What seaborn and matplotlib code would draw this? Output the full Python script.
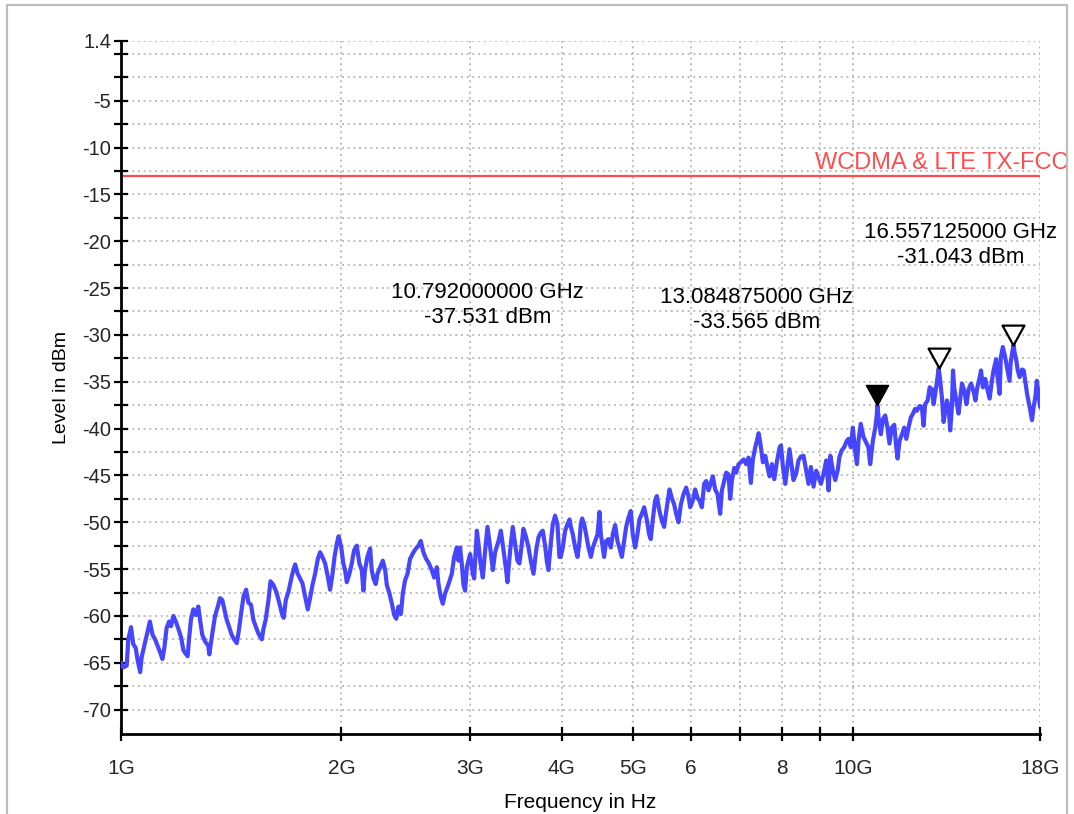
import matplotlib
matplotlib.use("Agg")
import matplotlib.pyplot as plt
from matplotlib import font_manager
from matplotlib.path import Path
from matplotlib.ticker import FixedLocator, NullLocator
from matplotlib.patches import Rectangle
import seaborn as sns
import pandas as pd

# ---------------- data ----------------
freq_ghz = [
    1.000, 1.007, 1.018, 1.023, 1.032, 1.039, 1.047, 1.054, 1.062, 1.067,
    1.084, 1.095, 1.104, 1.113, 1.122, 1.131, 1.139, 1.146, 1.154, 1.163,
    1.170, 1.179, 1.188, 1.198, 1.208, 1.217, 1.233, 1.239, 1.246, 1.255,
    1.265, 1.275, 1.282, 1.291, 1.302, 1.316, 1.320, 1.330, 1.344, 1.358,
    1.365, 1.375, 1.384, 1.394, 1.404, 1.416, 1.427, 1.439, 1.447, 1.459,
    1.470, 1.482, 1.493, 1.505, 1.516, 1.532, 1.543, 1.557, 1.565, 1.576,
    1.590, 1.600, 1.615, 1.629, 1.641, 1.658, 1.668, 1.679, 1.693, 1.714,
    1.729, 1.743, 1.769, 1.784, 1.799, 1.812, 1.826, 1.841, 1.857, 1.870,
    1.884, 1.900, 1.916, 1.930, 1.945, 1.957, 1.971, 1.982, 1.998, 2.012,
    2.023, 2.034, 2.051, 2.066, 2.081, 2.099, 2.116, 2.132, 2.143, 2.154,
    2.170, 2.189, 2.200, 2.212, 2.228, 2.240, 2.259, 2.278, 2.295, 2.307,
    2.326, 2.344, 2.361, 2.376, 2.393, 2.411, 2.426, 2.443, 2.462, 2.482,
    2.509, 2.529, 2.548, 2.567, 2.588, 2.610, 2.630, 2.657, 2.677, 2.700,
    2.714, 2.734, 2.751, 2.771, 2.801, 2.830, 2.851, 2.875, 2.890, 2.905,
    2.920, 2.936, 2.951, 2.967, 2.982, 2.998, 3.023, 3.036, 3.062, 3.078,
    3.094, 3.120, 3.143, 3.166, 3.193, 3.220, 3.243, 3.278, 3.302, 3.330,
    3.357, 3.371, 3.400, 3.428, 3.454, 3.479, 3.501, 3.527, 3.545, 3.575,
    3.602, 3.628, 3.659, 3.690, 3.717, 3.745, 3.767, 3.795, 3.815, 3.835,
    3.863, 3.888, 3.916, 3.945, 3.970,
    3.987, 4.012, 4.042, 4.072, 4.098, 4.115, 4.141, 4.171, 4.202, 4.229,
    4.246, 4.264, 4.291, 4.318, 4.350, 4.382, 4.410, 4.442, 4.475, 4.503,
    4.522, 4.550, 4.569, 4.598, 4.632, 4.666, 4.695, 4.730, 4.765, 4.805,
    4.831, 4.866, 4.897, 4.933, 4.969, 5.000, 5.037, 5.074, 5.106, 5.144,
    5.182, 5.225, 5.264, 5.291, 5.325, 5.364, 5.393, 5.438, 5.478, 5.518,
    5.565, 5.612, 5.653, 5.695, 5.731, 5.773, 5.816, 5.865, 5.914, 5.957,
    5.989, 6.039, 6.084, 6.129, 6.168, 6.213, 6.259, 6.298, 6.345, 6.392,
    6.432, 6.479, 6.527, 6.582, 6.617, 6.666, 6.708, 6.757, 6.793, 6.828,
    6.879, 6.923, 6.974, 7.024, 7.084, 7.143, 7.196, 7.249, 7.295, 7.349,
    7.388, 7.427, 7.466, 7.529, 7.585, 7.641, 7.689, 7.746, 7.803, 7.869,
    7.935,
    7.969, 8.019, 8.078, 8.138, 8.185, 8.246, 8.290, 8.359, 8.421, 8.483,
    8.555, 8.627, 8.690, 8.755, 8.828, 8.903, 8.968, 9.035, 9.112, 9.188,
    9.257, 9.306, 9.383, 9.453, 9.523, 9.579, 9.650, 9.721, 9.802, 9.854,
    9.927, 9.989, 10.06, 10.12, 10.17, 10.24, 10.33, 10.42, 10.49, 10.55,
    10.64, 10.72, 10.77, 10.792, 10.84, 10.91, 10.98, 11.06, 11.14, 11.21,
    11.29, 11.38, 11.45, 11.50, 11.57, 11.66, 11.74, 11.82, 11.90, 11.99,
    12.07, 12.15, 12.22, 12.32, 12.41, 12.48, 12.54, 12.64, 12.72, 12.81,
    12.88, 12.94, 13.01, 13.085, 13.15, 13.22, 13.29, 13.36, 13.43, 13.50,
    13.57, 13.64, 13.69, 13.74, 13.83, 13.93, 14.01, 14.08, 14.19, 14.28,
    14.38, 14.49, 14.61, 14.69, 14.76, 14.89, 14.95, 15.04, 15.15, 15.23,
    15.36, 15.47, 15.55, 15.68, 15.75, 15.85, 15.91, 16.01, 16.13, 16.25,
    16.35, 16.42, 16.557, 16.60, 16.71, 16.78, 16.88, 17.01, 17.10, 17.18,
    17.28, 17.42, 17.55, 17.64, 17.73, 17.82, 17.92, 18.00,
]
level_dbm = [
    -65.0, -65.5, -65.3, -62.5, -61.2, -63.0, -63.4, -64.8, -66.0, -64.4,
    -62.1, -60.6, -62.0, -62.5, -63.2, -63.9, -64.6, -63.4, -61.3, -60.6,
    -61.1, -60.0, -60.6, -61.4, -62.3, -63.7, -64.3, -62.3, -60.4, -59.3,
    -59.9, -59.0, -60.4, -62.0, -62.7, -63.2, -64.1, -62.3, -60.0, -58.8,
    -58.1, -58.3, -59.3, -60.4, -61.1, -62.0, -62.5, -62.9, -61.8, -59.7,
    -57.9, -57.2, -58.6, -58.8, -60.4, -61.4, -62.0, -62.5, -61.4, -60.4,
    -58.3, -56.3, -56.7, -57.4, -58.3, -59.7, -60.2, -58.3, -57.4, -55.5,
    -54.5, -55.5, -56.5, -57.9, -59.3, -58.1, -56.7, -55.5, -53.9, -53.2,
    -53.7, -54.4, -55.8, -57.2, -55.5, -53.7, -52.3, -51.5, -52.6, -54.4,
    -55.1, -56.4, -55.5, -54.4, -53.0, -52.5, -54.4, -55.1, -57.3, -55.1,
    -53.7, -52.8, -55.1, -56.0, -56.6, -55.5, -54.8, -54.1, -55.1, -56.7,
    -57.6, -58.7, -59.9, -60.3, -59.0, -59.8, -57.6, -56.2, -55.5, -53.9,
    -53.2, -52.8, -52.5, -52.0, -53.2, -53.9, -54.3, -55.1, -55.9, -54.8,
    -56.6, -58.0, -58.7, -57.6, -56.6, -55.5, -53.7, -52.7, -54.1, -52.7,
    -54.4, -56.7, -57.3, -54.8, -54.1, -53.4, -55.5, -56.0, -50.9, -52.3,
    -54.1, -55.9, -53.0, -50.5, -52.7, -55.1, -53.2, -52.0, -50.9, -53.0,
    -55.1, -56.4, -53.0, -50.5, -52.3, -54.1, -54.4, -52.3, -50.7, -51.6,
    -52.7, -54.1, -55.5, -53.0, -51.6, -51.1, -50.9, -52.5, -54.1, -55.1,
    -52.3, -50.2, -49.3, -50.2, -53.7,
    -53.7, -52.7, -50.9, -50.2, -49.7, -50.5, -51.3, -52.7, -53.7, -52.0,
    -50.2, -49.6, -50.2, -51.3, -52.7, -53.7, -52.7, -52.0, -51.3, -48.9,
    -51.3, -52.7, -53.7, -52.0, -51.8, -52.7, -51.3, -50.3, -52.0, -53.0,
    -53.7, -52.0, -50.5, -49.5, -48.8, -51.3, -52.7, -51.3, -49.7, -49.1,
    -48.4, -49.7, -51.3, -51.8, -49.7, -47.7, -47.2, -48.8, -49.8, -50.5,
    -48.4, -46.5, -47.4, -48.1, -49.1, -50.0, -48.1, -47.0, -46.3, -47.2,
    -48.4, -47.7, -46.5, -47.4, -47.7, -48.4, -45.9, -45.6, -46.6, -45.8,
    -45.1, -46.5, -47.0, -49.1, -46.6, -45.6, -44.7, -44.9, -47.5, -45.6,
    -44.2, -44.7, -43.8, -43.6, -43.3, -43.8, -43.1, -45.8, -43.3, -42.0,
    -41.3, -40.5, -41.5, -43.6, -42.9, -44.2, -45.1, -43.8, -45.4, -43.5,
    -42.0,
    -41.8, -44.1, -45.9, -43.8, -42.2, -44.1, -45.5, -44.8, -43.4, -43.0,
    -42.9, -44.5, -45.9, -44.1, -46.2, -44.5, -45.2, -45.9, -44.8, -43.4,
    -46.6, -42.9, -44.5, -45.5, -44.5, -43.0, -42.3, -42.0, -41.3, -41.1,
    -42.0, -39.9, -42.3, -43.8, -41.3, -39.5, -40.9, -41.5, -42.0, -43.8,
    -41.3, -39.9, -38.6, -37.531, -39.1, -40.6, -39.0, -38.6, -39.9, -41.6,
    -39.9, -39.6, -42.0, -43.2, -41.3, -40.6, -39.9, -41.1, -39.9, -38.8,
    -38.4, -37.9, -38.1, -37.6, -37.7, -39.7, -37.4, -37.0, -35.6, -35.8,
    -37.4, -36.3, -35.1, -33.565, -34.9, -36.7, -39.3, -38.1, -37.0, -37.7,
    -40.2, -37.7, -33.8, -35.6, -37.0, -38.4, -36.7, -35.2, -36.0, -37.4,
    -35.8, -35.2, -36.1, -37.0, -35.8, -34.5, -33.8, -35.6, -34.7, -35.6,
    -36.8, -34.9, -33.8, -32.6, -34.5, -36.3, -32.4, -31.3, -32.4, -33.8,
    -34.9, -32.8, -31.043, -31.7, -32.8, -33.8, -34.5, -33.7, -33.8, -34.9,
    -36.3, -37.7, -39.1, -37.7, -36.7, -34.9, -36.5, -37.7,
]

marker_freq_ghz = [10.792, 13.084875, 16.557125]
marker_level_dbm = [-37.531, -33.565, -31.043]
marker_filled = [True, False, False]
marker_labels = ["10.792000000 GHz\n-37.531 dBm",
                 "13.084875000 GHz\n-33.565 dBm",
                 "16.557125000 GHz\n-31.043 dBm"]

limit_level_dbm = -13.0
limit_label = "WCDMA & LTE TX-FCC"

x_tick_values = [1, 2, 3, 4, 5, 6, 7, 8, 9, 10, 18]
x_tick_labels = ["1G", "2G", "3G", "4G", "5G", "6", "", "8", "", "10G", "18G"]
y_major_values = [1.4] + [-5.0 * k for k in range(1, 15)]
y_major_labels = ["1.4"] + [str(-5 * k) for k in range(1, 15)]
y_minor_values = [0.0] + [-2.5 - 5.0 * k for k in range(0, 14)]

# ---------------- style ----------------
sns.set_theme(style="white")
names = {f.name for f in font_manager.fontManager.ttflist}
main_font = "Liberation Sans" if "Liberation Sans" in names else "DejaVu Sans"
narrow_font = "Liberation Sans Narrow" if "Liberation Sans Narrow" in names else main_font
plt.rcParams["font.family"] = [main_font, "DejaVu Sans"]

TRACE = "#4646ff"
RED = "#ff4d4d"

fig = plt.figure(figsize=(10.74, 8.14), dpi=100)
fig.patch.set_facecolor("white")
ax = fig.add_axes([0.1127, 0.0983, 0.8557, 0.8517])
ax.set_facecolor("white")

df = pd.DataFrame({"freq": freq_ghz, "level": level_dbm})
sns.lineplot(data=df, x="freq", y="level", ax=ax, color=TRACE, lw=3.0,
             estimator=None, sort=False, zorder=3)
ax.lines[-1].set_solid_joinstyle("round")

# limit line
ax.axhline(limit_level_dbm, color=RED, lw=1.6, zorder=2)

# markers (down-pointing triangle whose tip sits on the point)
tri = Path([(-0.55, 1.0), (0.55, 1.0), (0.0, 0.0), (-0.55, 1.0)],
           [Path.MOVETO, Path.LINETO, Path.LINETO, Path.CLOSEPOLY])
mdf = pd.DataFrame({"freq": marker_freq_ghz, "level": marker_level_dbm,
                    "filled": marker_filled})
sns.scatterplot(data=mdf[mdf.filled], x="freq", y="level", ax=ax, marker=tri,
                s=820, color="black", edgecolor="black", linewidth=1.2, zorder=5)
sns.scatterplot(data=mdf[~mdf.filled], x="freq", y="level", ax=ax, marker=tri,
                s=820, color="white", edgecolor="black", linewidth=1.6, zorder=5)

# marker readouts
label_pos = [(3.17, -26.76), (7.39, -27.35), (14.01, -20.41)]
for (lx, ly), txt in zip(label_pos, marker_labels):
    ax.text(lx, ly, txt, ha="center", va="center", fontsize=16,
            linespacing=1.25, color="black", zorder=6)

ax.annotate(limit_label, xy=(1.0305, limit_level_dbm), xycoords=("axes fraction", "data"),
            xytext=(0, 1.5), textcoords="offset points", ha="right", va="bottom",
            fontsize=17, color=RED, annotation_clip=False)

# axes
ax.set_xscale("log")
ax.set_xlim(1, 18)
ax.set_ylim(-72.6, 1.4)
ax.xaxis.set_major_locator(FixedLocator(x_tick_values))
ax.xaxis.set_minor_locator(NullLocator())
ax.set_xticklabels(x_tick_labels)
ax.yaxis.set_major_locator(FixedLocator(y_major_values))
ax.yaxis.set_minor_locator(FixedLocator(y_minor_values))
ax.set_yticklabels(y_major_labels)

for lab in ax.get_xticklabels():
    lab.set_fontfamily([narrow_font, "DejaVu Sans"])
    lab.set_fontsize(15)
for lab in ax.get_yticklabels():
    lab.set_fontsize(14.5)

ax.tick_params(axis="both", which="both", direction="inout", length=10,
               width=1.6, color="black", bottom=True, left=True,
               top=False, right=False)
ax.tick_params(axis="x", which="major", pad=13)
ax.tick_params(axis="y", which="both", pad=2)

ax.grid(True, which="both", axis="both", linestyle=(0, (1.2, 2.2)),
        color="#b4b4b4", lw=1.2, zorder=0)
ax.set_axisbelow(True)

for side in ["top", "right"]:
    ax.spines[side].set_visible(False)
for side in ["left", "bottom"]:
    ax.spines[side].set_color("black")
    ax.spines[side].set_linewidth(2)

ax.set_xlabel("Frequency in Hz", fontsize=15, labelpad=11,
              fontfamily=[narrow_font, "DejaVu Sans"], color="black")
ax.set_ylabel("Level in dBm", fontsize=14, labelpad=9, color="black")

# outer frame of the screenshot
fig.patches.append(Rectangle((6.5 / 1074, -0.01), (1067 - 6.5) / 1074, 1 - 5 / 814 + 0.01,
                             transform=fig.transFigure, fill=False,
                             edgecolor="#bdbdbd", lw=1.6))

fig.savefig("out.png", dpi=100, facecolor="white")
